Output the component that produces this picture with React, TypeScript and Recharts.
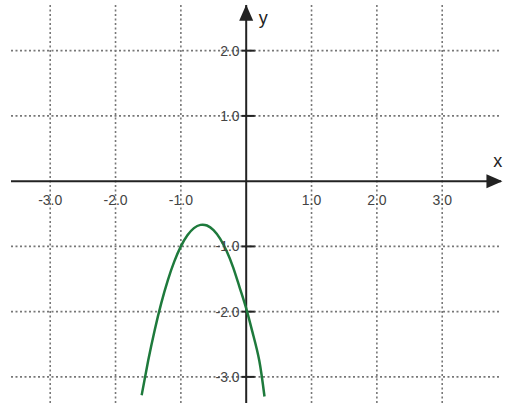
import { ComposedChart, Line, XAxis, YAxis, ReferenceLine, ReferenceDot } from 'recharts';

const xTicks = [-3, -2, -1, 1, 2, 3];
const yTicks = [-3, -2, -1, 1, 2];
const xLabels = ['-3.0', '-2.0', '-1.0', '1.0', '2.0', '3.0'];
const yLabels = ['-3.0', '-2.0', '-1.0', '1.0', '2.0'];

const curveX = [-1.6, -1.5, -1.4, -1.3, -1.2, -1.1, -1.0, -0.9, -0.8, -0.7, -0.6, -0.5, -0.4, -0.3, -0.2, -0.1, 0, 0.1, 0.2, 0.28];
const curveY = [-3.28, -2.75, -2.28, -1.87, -1.52, -1.23, -1.0, -0.83, -0.72, -0.67, -0.68, -0.75, -0.88, -1.07, -1.32, -1.63, -1.95, -2.33, -2.75, -3.3];
const curve = curveX.map((x, i) => ({ x, y: curveY[i] }));

const Arrow = ({ cx, cy, dir }: { cx?: number; cy?: number; dir: 'up' | 'right' }) => {
  if (cx == null || cy == null) return null;
  const pts = dir === 'up'
    ? `${cx},${cy - 8} ${cx - 7},${cy + 8} ${cx + 7},${cy + 8}`
    : `${cx + 8},${cy} ${cx - 8},${cy - 7} ${cx - 8},${cy + 7}`;
  return <polygon points={pts} fill="#222" />;
};

const font = { fontFamily: 'Arial, "Liberation Sans", sans-serif', fontSize: 14, fill: '#444' };

export default function App() {
  return (
    <div style={{ position: 'absolute', left: 0, top: 0, width: 510, height: 408, background: '#fff' }}>
      <ComposedChart width={510} height={408} data={curve} margin={{ top: 5, right: 9, left: 11, bottom: 5 }}>
        <XAxis type="number" dataKey="x" domain={[-3.6, 3.9]} hide allowDataOverflow />
        <YAxis type="number" domain={[-3.4, 2.7]} hide allowDataOverflow />
        {xTicks.map(t => (
          <ReferenceLine key={'gx' + t} x={t} stroke="#777" strokeDasharray="2 2.5" strokeWidth={1.6} />
        ))}
        {yTicks.map(t => (
          <ReferenceLine key={'gy' + t} y={t} stroke="#777" strokeDasharray="2 2.5" strokeWidth={1.6} />
        ))}
        <ReferenceLine y={0} stroke="#222" strokeWidth={2} segment={[{ x: -3.6, y: 0 }, { x: 3.75, y: 0 }]} />
        <ReferenceLine x={0} stroke="#222" strokeWidth={2} segment={[{ x: 0, y: -3.4 }, { x: 0, y: 2.55 }]} />
        {yTicks.map(t => (
          <ReferenceLine key={'tk' + t} stroke="#222" strokeWidth={2}
            segment={[{ x: -0.07, y: t }, { x: 0.13, y: t }]} />
        ))}
        <ReferenceDot x={3.8} y={0} r={0} shape={(p: any) => <Arrow {...p} dir="right" />} />
        <ReferenceDot x={0} y={2.58} r={0} shape={(p: any) => <Arrow {...p} dir="up" />} />
        {xTicks.map((t, i) => (
          <ReferenceDot key={'lx' + t} x={t} y={0} r={0}
            label={{ value: xLabels[i], position: 'bottom', offset: 14, style: font }} />
        ))}
        {yTicks.map((t, i) => (
          <ReferenceDot key={'ly' + t} x={-0.07} y={t} r={0}
            label={{ value: yLabels[i], position: 'left', offset: 2, style: font }} />
        ))}
        <ReferenceDot x={3.85} y={0.32} r={0} label={{ value: 'x', position: 'center', style: { ...font, fontSize: 18, fill: '#222' } }} />
        <ReferenceDot x={0.26} y={2.5} r={0} label={{ value: 'y', position: 'center', style: { ...font, fontSize: 18, fill: '#222' } }} />
        <Line type="natural" dataKey="y" stroke="#1e7a3c" strokeWidth={2.5} dot={false} isAnimationActive={false} />
      </ComposedChart>
    </div>
  );
}
